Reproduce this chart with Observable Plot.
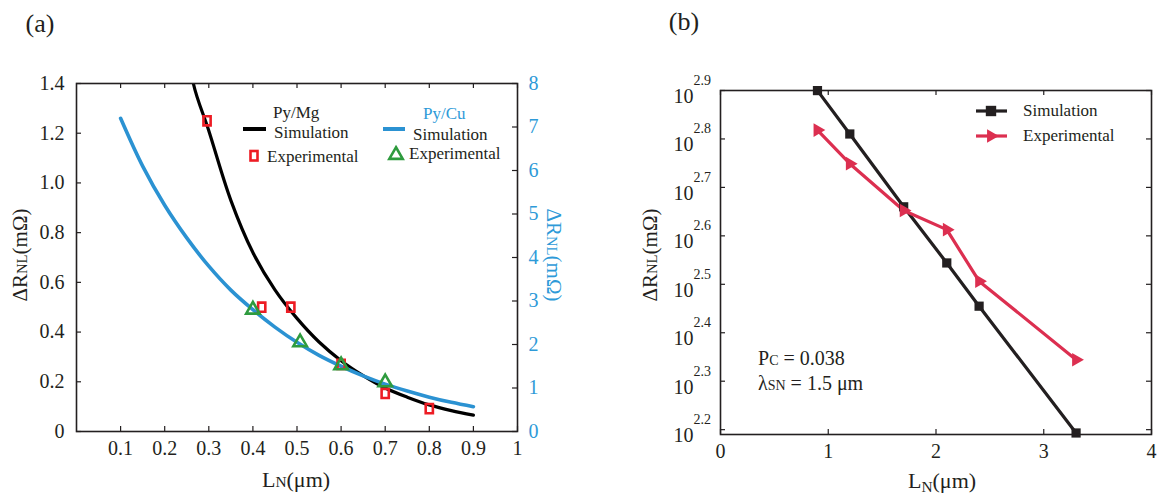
<!DOCTYPE html>
<html><head><meta charset="utf-8">
<script src="https://cdn.jsdelivr.net/npm/d3@7"></script>
<script src="https://cdn.jsdelivr.net/npm/@observablehq/plot@0.6"></script>
<style>
body{margin:0;background:#fff;}
#root{position:relative;width:1159px;height:495px;overflow:hidden;font-family:"Liberation Serif","Times New Roman",serif;color:#231f20;}
.abs{position:absolute;white-space:nowrap;line-height:1;}
.sm{font-size:0.7em;}
svg{position:absolute;top:0;}
</style></head><body><div id="root"></div>
<script>
// ---------- Panel (a) data ----------
const mgSimX = [0.25, 0.265, 0.3, 0.35, 0.4, 0.45, 0.5, 0.55, 0.6, 0.65, 0.7, 0.75, 0.8, 0.85, 0.9];
const mgSimY = [1.62, 1.40, 1.21, 0.93, 0.72, 0.57, 0.455, 0.36, 0.285, 0.225, 0.175, 0.138, 0.107, 0.084, 0.066];
const cuSimX = [0.1, 0.15, 0.2, 0.25, 0.3, 0.35, 0.4, 0.45, 0.5, 0.55, 0.6, 0.65, 0.7, 0.75, 0.8, 0.85, 0.9];
const cuSimY = [7.2, 6.1, 5.2, 4.45, 3.8, 3.25, 2.8, 2.4, 2.05, 1.75, 1.5, 1.28, 1.09, 0.93, 0.79, 0.67, 0.57]; // right axis
const mgExpX = [0.296, 0.42, 0.486, 0.60, 0.70, 0.80];
const mgExpY = [1.25, 0.50, 0.50, 0.27, 0.153, 0.092];
const cuExpX = [0.40, 0.507, 0.60, 0.70];
const cuExpY = [2.80, 2.05, 1.52, 1.13]; // right axis
const xTicksA = [0.1, 0.2, 0.3, 0.4, 0.5, 0.6, 0.7, 0.8, 0.9, 1];
const yTicksA = [0, 0.2, 0.4, 0.6, 0.8, 1.0, 1.2, 1.4];
const yTicksRight = [0, 1, 2, 3, 4, 5, 6, 7, 8];
const leftMax = 1.4, rightMax = 8;

// ---------- Panel (b) data ----------
const simBX = [0.9, 1.2, 1.7, 2.1, 2.4, 3.3];
const simBY = [794, 646, 457, 350, 285, 156];
const expBX = [0.9, 1.2, 1.7, 2.1, 2.4, 3.3];
const expBY = [658, 561, 449, 410, 321, 221];
const xTicksB = [0, 1, 2, 3, 4];
const yExpB = [2.2, 2.3, 2.4, 2.5, 2.6, 2.7, 2.8, 2.9];

const ink = "#231f20", blue = "#2b92d2", blueText = "#2e9ad8", redA = "#ed1c24", green = "#2e9b3e", redB = "#dc2f50";
const font = "'Liberation Serif','Times New Roman',serif";
const root = document.getElementById("root");

const toLeft = v => v * leftMax / rightMax;
const mgSim = mgSimX.map((x, i) => ({x, y: mgSimY[i]}));
const cuSim = cuSimX.map((x, i) => ({x, y: toLeft(cuSimY[i])}));
const mgExp = mgExpX.map((x, i) => ({x, y: mgExpY[i]}));
const cuExp = cuExpX.map((x, i) => ({x, y: toLeft(cuExpY[i])}));

const rectSymbol = {draw(ctx, size) { const r = Math.sqrt(size / Math.PI); const w = r * 0.78; ctx.moveTo(-w, -r); ctx.lineTo(w, -r); ctx.lineTo(w, r); ctx.lineTo(-w, r); ctx.closePath(); }};

const WA = 560, H = 495, mLA = 76, mRA = 43, mTA = 83, mBA = 64;
const iwA = WA - mLA - mRA, ihA = H - mTA - mBA, tl = 5;
const plotA = Plot.plot({
  width: WA, height: H, marginLeft: mLA, marginRight: mRA, marginTop: mTA, marginBottom: mBA,
  style: {fontFamily: font, fontSize: "20px", background: "transparent", color: ink, overflow: "visible"},
  x: {domain: [0, 1], axis: null},
  y: {domain: [0, leftMax], axis: null},
  marks: [
    Plot.line(mgSim, {x: "x", y: "y", stroke: "#000", strokeWidth: 3.2, curve: "catmull-rom", clip: true}),
    Plot.line(cuSim, {x: "x", y: "y", stroke: blue, strokeWidth: 3.6, curve: "catmull-rom"}),
    Plot.dot(mgExp, {x: "x", y: "y", symbol: rectSymbol, r: 4.6, stroke: redA, strokeWidth: 2.6, fill: "none"}),
    Plot.dot(cuExp, {x: "x", y: "y", symbol: "triangle", r: 5, stroke: green, strokeWidth: 2.6, fill: "none"}),
    Plot.frame({stroke: ink, strokeWidth: 1.6}),
    Plot.tickX(xTicksA, {x: d => d, insetTop: ihA - tl, stroke: ink, strokeWidth: 1.2}),
    Plot.tickX(xTicksA, {x: d => d, insetBottom: ihA - tl, stroke: ink, strokeWidth: 1.2}),
    Plot.tickY(yTicksA, {y: d => d, insetRight: iwA - tl, stroke: ink, strokeWidth: 1.2}),
    Plot.tickY(yTicksRight, {y: d => toLeft(d), insetLeft: iwA - tl, stroke: ink, strokeWidth: 1.2}),
    Plot.axisX(xTicksA, {tickSize: 0, tickPadding: 9, label: null, tickFormat: d => d === 1 ? "1" : d.toFixed(1), fontSize: 20, fill: ink}),
    Plot.axisY(yTicksA, {tickSize: 0, tickPadding: 12, label: null, tickFormat: d => d === 0 ? "0" : d.toFixed(1), fontSize: 20, fill: ink}),
    Plot.axisY(yTicksRight.map(toLeft), {anchor: "right", tickSize: 0, tickPadding: 11, label: null, tickFormat: d => String(Math.round(d * rightMax / leftMax)), fontSize: 20, fill: blueText})
  ]
});
plotA.style.left = "0px";
root.appendChild(plotA);

const simB = simBX.map((x, i) => ({x, y: simBY[i]}));
const expB = expBX.map((x, i) => ({x, y: expBY[i]}));
const WB = 579, mLB = 140, mRB = 8, mTB = 90, mBB = 61;
const iwB = WB - mLB - mRB, ihB = H - mTB - mBB;
const plotB = Plot.plot({
  width: WB, height: H, marginLeft: mLB, marginRight: mRB, marginTop: mTB, marginBottom: mBB,
  style: {fontFamily: font, fontSize: "20px", background: "transparent", color: ink, overflow: "visible"},
  x: {domain: [0, 4], axis: null},
  y: {type: "log", domain: [10 ** 2.19, 10 ** 2.9], axis: null},
  marks: [
    Plot.line(simB, {x: "x", y: "y", stroke: ink, strokeWidth: 3.2}),
    Plot.line(expB, {x: "x", y: "y", stroke: redB, strokeWidth: 3.2}),
    Plot.dot(simB, {x: "x", y: "y", symbol: "square", r: 5.2, fill: ink}),
    Plot.dot(expB, {x: "x", y: "y", symbol: "triangle2", rotate: 90, r: 6.5, fill: redB}),
    Plot.frame({stroke: ink, strokeWidth: 1.6}),
    Plot.tickX(xTicksB, {x: d => d, insetTop: ihB - tl, stroke: ink, strokeWidth: 1.2}),
    Plot.tickX(xTicksB, {x: d => d, insetBottom: ihB - tl, stroke: ink, strokeWidth: 1.2}),
    Plot.tickY(yExpB, {y: d => 10 ** d, insetRight: iwB - tl, stroke: ink, strokeWidth: 1.2}),
    Plot.tickY(yExpB, {y: d => 10 ** d, insetLeft: iwB - tl, stroke: ink, strokeWidth: 1.2}),
    Plot.axisX(xTicksB, {tickSize: 0, tickPadding: 9, label: null, tickFormat: d => String(d), fontSize: 20, fill: ink}),
    Plot.text(yExpB, {y: d => 10 ** d, frameAnchor: "left", text: () => "10", textAnchor: "end", dx: -27, dy: 6, fontSize: 20, fill: ink}),
    Plot.text(yExpB, {y: d => 10 ** d, frameAnchor: "left", text: d => d.toFixed(1), textAnchor: "start", dx: -27, dy: -10, fontSize: 14, fill: ink})
  ]
});
plotB.style.left = "580px";
root.appendChild(plotB);

function html(str, left, top, style = "") {
  const d = document.createElement("div");
  d.className = "abs";
  d.innerHTML = str;
  d.style.cssText += `left:${left}px;top:${top}px;${style}`;
  root.appendChild(d);
  return d;
}
// panel letters
html("(a)", 40, 24, "font-size:26px;transform:translate(-50%,-50%);");
html("(b)", 684, 22, "font-size:26px;transform:translate(-50%,-50%);");
// axis titles (a)
html('L<span class="sm">N</span>(μm)', 296, 480, "font-size:22px;transform:translate(-50%,-50%);");
html('ΔR<span class="sm">NL</span>(mΩ)', 20, 255, "font-size:21px;transform:translate(-50%,-50%) rotate(-90deg);");
html('ΔR<span class="sm">NL</span>(mΩ)', 553, 255, `font-size:21px;color:${blueText};transform:translate(-50%,-50%) rotate(90deg);`);
// axis titles (b)
html('L<sub style="font-size:0.7em;vertical-align:-0.25em">N</sub>(μm)', 942, 482, "font-size:22px;transform:translate(-50%,-50%);");
html('ΔR<span class="sm">NL</span>(mΩ)', 650, 255, "font-size:21px;transform:translate(-50%,-50%) rotate(-90deg);");
// annotations (b)
html('P<span class="sm">C</span> = 0.038', 758, 358, "font-size:20px;transform:translate(0,-50%);");
html('λ<span class="sm">SN</span> = 1.5 μm', 758, 383, "font-size:20px;transform:translate(0,-50%);");

// legends as an svg overlay
const ov = d3.select(root).append("svg").attr("width", 1159).attr("height", 495).style("left", "0px").style("font-family", font);
function t(x, y, s, color = ink, size = 17) { ov.append("text").attr("x", x).attr("y", y).attr("dy", "0.35em").attr("fill", color).attr("font-size", size).text(s); }
// (a) legend
t(273, 112, "Py/Mg");
ov.append("line").attr("x1", 243).attr("x2", 266).attr("y1", 129).attr("y2", 129).attr("stroke", "#000").attr("stroke-width", 4);
t(274, 132, "Simulation");
ov.append("rect").attr("x", 250.5).attr("y", 151).attr("width", 7).attr("height", 9.5).attr("fill", "none").attr("stroke", redA).attr("stroke-width", 2.6);
t(267, 156, "Experimental");
t(423, 113, "Py/Cu", blueText);
ov.append("line").attr("x1", 383).attr("x2", 405).attr("y1", 129).attr("y2", 129).attr("stroke", blue).attr("stroke-width", 4);
t(413, 134, "Simulation");
ov.append("path").attr("d", d3.symbol(d3.symbolTriangle, 78)()).attr("transform", "translate(396,155)").attr("fill", "none").attr("stroke", green).attr("stroke-width", 2.6);
t(409, 153, "Experimental");
// (b) legend
ov.append("line").attr("x1", 976).attr("x2", 1007).attr("y1", 111).attr("y2", 111).attr("stroke", ink).attr("stroke-width", 3.2);
ov.append("path").attr("d", d3.symbol(d3.symbolSquare, 108)()).attr("transform", "translate(991,111)").attr("fill", ink);
t(1023, 110, "Simulation");
ov.append("line").attr("x1", 976).attr("x2", 1007).attr("y1", 136).attr("y2", 136).attr("stroke", redB).attr("stroke-width", 3.2);
ov.append("path").attr("d", d3.symbol(d3.symbolTriangle2, 133)()).attr("transform", "translate(991,136) rotate(90)").attr("fill", redB);
t(1023, 135, "Experimental");
</script></body></html>
